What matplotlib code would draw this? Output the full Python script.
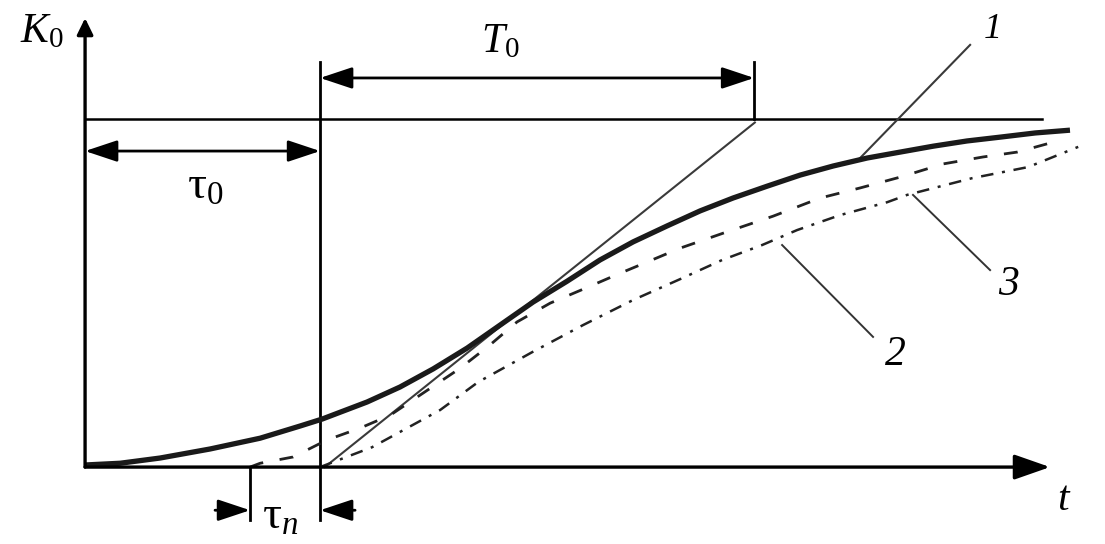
import matplotlib
matplotlib.use("Agg")
import matplotlib.pyplot as plt

plt.rcParams['font.family'] = ['Liberation Serif', 'DejaVu Serif']
plt.rcParams['mathtext.fontset'] = 'custom'
plt.rcParams['mathtext.rm'] = 'Liberation Serif'
plt.rcParams['mathtext.it'] = 'Liberation Serif:italic'

# units: t in tau0, K in K0
tau0 = 1.0
T0_end = 2.847
tau_n_start = 0.702
K_level = 1.0

# thick transient curve
t_main = [0.0, 0.149, 0.319, 0.532, 0.745, 0.915, 1.009, 1.2, 1.34, 1.481, 1.626, 1.766,
          1.906, 2.051, 2.191, 2.332, 2.477, 2.617, 2.757, 2.902, 3.043, 3.183, 3.328,
          3.468, 3.609, 3.753, 3.894, 4.043, 4.191]
K_main = [0.006, 0.011, 0.026, 0.052, 0.083, 0.118, 0.138, 0.187, 0.230, 0.282, 0.342, 0.408,
          0.474, 0.534, 0.595, 0.647, 0.693, 0.736, 0.773, 0.807, 0.839, 0.865, 0.888,
          0.905, 0.922, 0.937, 0.948, 0.960, 0.968]

# tangent line
t_tan = [1.02, 2.85]
K_tan = [0.0, 0.99]

# curve 1 (visible part above the thick curve)
t_1 = [3.298, 3.766]
K_1 = [0.888, 1.213]

# curve 3 (dashed)
t_3 = [0.702, 0.745, 0.885, 1.030, 1.170, 1.298, 1.426, 1.596, 1.723, 1.838, 1.979, 2.119,
       2.277, 2.391, 2.532, 2.715, 2.928, 3.128, 3.298, 3.468, 3.651, 3.821, 3.966, 4.106]
K_3 = [0.0, 0.011, 0.029, 0.078, 0.112, 0.149, 0.207, 0.284, 0.351, 0.417, 0.471, 0.511,
       0.557, 0.589, 0.629, 0.672, 0.721, 0.773, 0.802, 0.833, 0.871, 0.891, 0.905, 0.931]

# curve 2 (dash-dot)
t_2 = [1.0, 1.221, 1.370, 1.511, 1.672, 1.902, 2.119, 2.332, 2.532, 2.711, 2.881, 3.030,
       3.213, 3.413, 3.498, 3.774, 4.013, 4.226]
K_2 = [0.0, 0.057, 0.112, 0.164, 0.244, 0.330, 0.408, 0.480, 0.540, 0.595, 0.638, 0.681,
       0.724, 0.761, 0.782, 0.830, 0.862, 0.920]


def arrow(ax, start, end, style, lw=2.0):
    ax.annotate("", xy=end, xytext=start,
                arrowprops=dict(arrowstyle=style, color="black", lw=lw,
                                shrinkA=0, shrinkB=0, mutation_scale=22))


def main():
    fig = plt.figure(figsize=(11.05, 5.44), dpi=100)
    ax = fig.add_axes([0, 0, 1, 1])
    ax.set_xlim(-0.362, 4.34)
    ax.set_ylim(-0.221, 1.342)
    ax.axis("off")

    # axes
    arrow(ax, (0, 0), (0, 1.29), "-|>,head_length=0.45,head_width=0.22", lw=2.4)
    arrow(ax, (0, 0), (4.106, 0), "-|>,head_length=1.0,head_width=0.35", lw=2.4)

    # reference lines
    ax.plot([0, 4.072], [K_level, K_level], color="black", lw=1.8)
    ax.plot([tau0, tau0], [-0.152, 1.164], color="black", lw=2.0)
    ax.plot([T0_end, T0_end], [K_level, 1.164], color="black", lw=2.0)
    ax.plot([tau_n_start, tau_n_start], [0, -0.152], color="black", lw=2.0)

    # dimension arrows
    arrow(ax, (tau0, 1.118), (T0_end, 1.118), "<|-|>,head_length=0.9,head_width=0.3")
    arrow(ax, (0, 0.908), (tau0, 0.908), "<|-|>,head_length=0.9,head_width=0.3")
    arrow(ax, (0.553, -0.124), (tau_n_start, -0.124), "-|>,head_length=0.9,head_width=0.3")
    arrow(ax, (1.149, -0.124), (tau0, -0.124), "-|>,head_length=0.9,head_width=0.3")

    # curves
    ax.plot(t_tan, K_tan, color="#3a3a3a", lw=1.5)
    ax.plot(t_1, K_1, color="#3a3a3a", lw=1.5)
    ax.plot(t_3, K_3, color="#222222", lw=2.0, dashes=(5, 6))
    ax.plot(t_2, K_2, color="#222222", lw=1.8, dashes=(5, 3.5, 1.2, 3.5))
    ax.plot(t_main, K_main, color="#1a1a1a", lw=3.8, solid_capstyle="butt")

    # leaders
    ax.plot([2.966, 3.353], [0.638, 0.374], color="#333333", lw=1.4)
    ax.plot([3.523, 3.851], [0.782, 0.566], color="#333333", lw=1.4)

    # labels
    fs = 30
    ax.text(-0.183, 1.25, r"$K_0$", fontsize=fs, ha="center", va="center")
    ax.text(1.766, 1.221, r"$T_0$", fontsize=fs, ha="center", va="center")
    ax.text(0.511, 0.802, r"$\mathrm{\tau}_0$", fontsize=34, ha="center", va="center")
    ax.text(0.83, -0.145, r"$\mathrm{\tau}_n$", fontsize=34, ha="center", va="center")
    ax.text(4.162, -0.095, "t", fontsize=fs, style="italic", ha="center", va="center")
    ax.text(3.864, 1.256, "1", fontsize=26, style="italic", ha="center", va="center")
    ax.text(3.447, 0.322, "2", fontsize=fs, style="italic", ha="center", va="center")
    ax.text(3.928, 0.523, "3", fontsize=fs, style="italic", ha="center", va="center")

    fig.savefig("out.png", dpi=100)
    plt.close(fig)


if __name__ == "__main__":
    main()
